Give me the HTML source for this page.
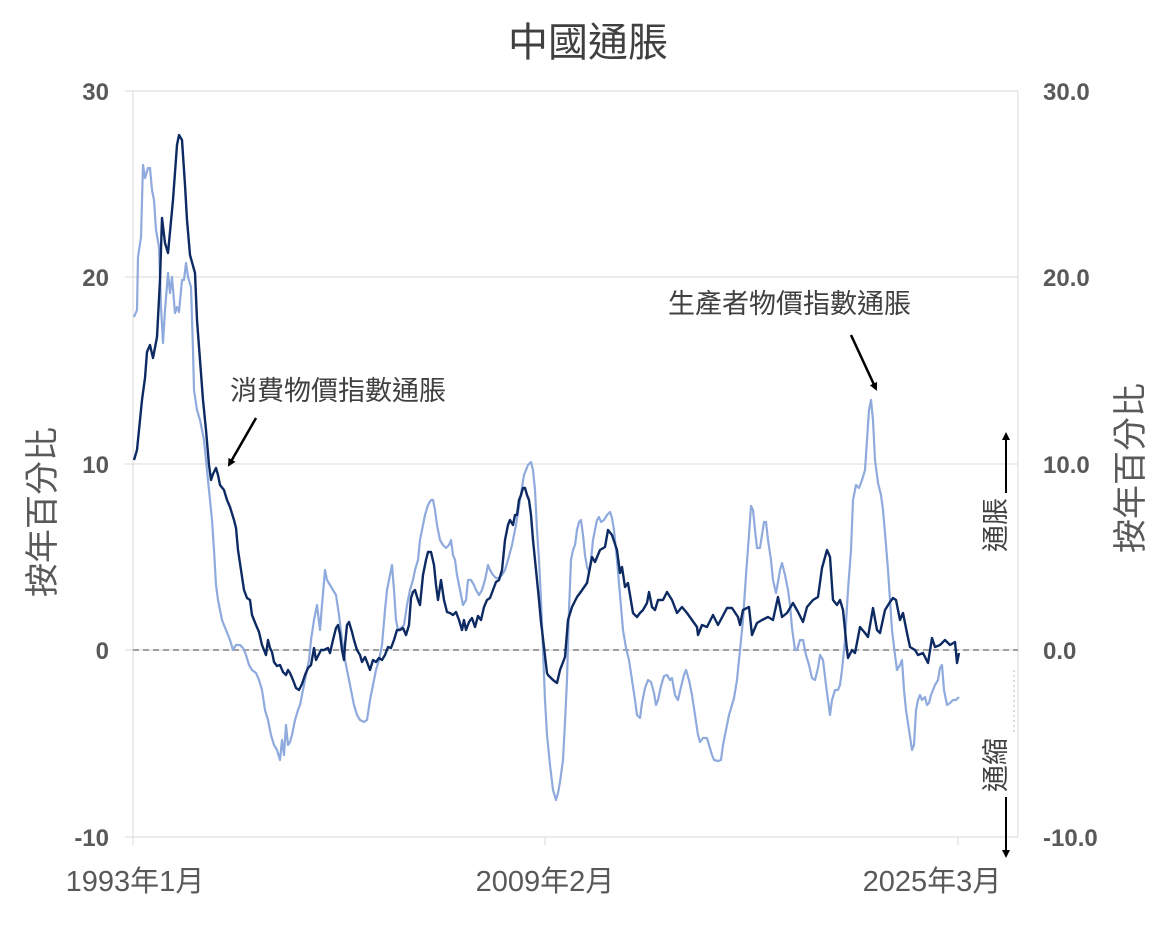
<!DOCTYPE html>
<html><head><meta charset="utf-8"><style>
html,body{margin:0;padding:0;background:#fff;}
svg{display:block;font-family:"Liberation Sans","Noto Sans CJK TC",sans-serif;}
</style></head><body>
<svg width="1167" height="932" viewBox="0 0 1167 932" xmlns="http://www.w3.org/2000/svg">
<defs><marker id="ah" markerWidth="8" markerHeight="8" refX="6" refY="4" orient="auto" markerUnits="userSpaceOnUse"><path d="M0,0 L8,4 L0,8 z" fill="#000"/></marker></defs>
<text x="588" y="56" font-size="40" fill="#404040" text-anchor="middle">中國通脹</text>
<g stroke="#d9d9d9" stroke-width="1">
<line x1="133" y1="91" x2="1018" y2="91"/><line x1="133" y1="277" x2="1018" y2="277"/>
<line x1="133" y1="464" x2="1018" y2="464"/><line x1="133" y1="837" x2="1018" y2="837"/>
<line x1="133" y1="650" x2="1018" y2="650"/>
<line x1="133" y1="91" x2="133" y2="845"/><line x1="1018" y1="91" x2="1018" y2="837"/>
<line x1="125" y1="91" x2="133" y2="91"/><line x1="125" y1="277" x2="133" y2="277"/><line x1="125" y1="464" x2="133" y2="464"/><line x1="125" y1="650" x2="133" y2="650"/><line x1="125" y1="837" x2="133" y2="837"/>
<line x1="545" y1="837" x2="545" y2="845"/><line x1="958" y1="837" x2="958" y2="845"/>
</g>
<line x1="133" y1="650" x2="1018" y2="650" stroke="#808080" stroke-width="1.5" stroke-dasharray="6,4"/>
<g font-size="24" font-weight="bold" fill="#595959" text-anchor="end">
<text x="109" y="100">30</text><text x="109" y="286">20</text><text x="109" y="473">10</text><text x="109" y="659">0</text><text x="109" y="846">-10</text>
</g>
<g font-size="24" font-weight="bold" fill="#595959" text-anchor="start">
<text x="1043" y="100">30.0</text><text x="1043" y="286">20.0</text><text x="1043" y="473">10.0</text><text x="1043" y="659">0.0</text><text x="1043" y="846">-10.0</text>
</g>
<g font-size="29" fill="#595959" text-anchor="middle">
<text x="135" y="891">1993年1月</text><text x="545" y="891">2009年2月</text><text x="932" y="891">2025年3月</text>
</g>
<text transform="translate(54,512) rotate(-90)" font-size="34" fill="#595959" text-anchor="middle">按年百分比</text>
<text transform="translate(1142,468) rotate(-90)" font-size="34" fill="#595959" text-anchor="middle">按年百分比</text>
<text transform="translate(1005,525) rotate(-90)" font-size="27" fill="#404040" text-anchor="middle">通脹</text>
<text transform="translate(1005,765) rotate(-90)" font-size="27" fill="#404040" text-anchor="middle">通縮</text>
<line x1="1006" y1="493" x2="1006" y2="434" stroke="#000" stroke-width="2" marker-end="url(#ah)"/>
<line x1="1006" y1="797" x2="1006" y2="856" stroke="#000" stroke-width="2" marker-end="url(#ah)"/>
<line x1="1014" y1="670" x2="1014" y2="735" stroke="#bbb" stroke-width="1" stroke-dasharray="2,3"/>
<polyline fill="none" stroke="#8faadc" stroke-width="2.2" stroke-linejoin="round" points="134,317 137,310 138,257 141,237 143,165 145,178 148,168 150,168 152,190 154,200 156,230 159,247 161,307 163,343 165,310 168,273 170,293 172,277 175,313 177,307 179,312 182,280 184,280 186,263 188,277 191,287 193,350 194,390 197,410 200,420 204,440 207,470 210,500 212,520 214,550 216,585 218,600 220,610 222,620 226,630 230,640 233,650 236,645 240,645 243,648 246,655 249,665 252,670 256,673 259,680 262,690 265,710 268,720 271,735 274,745 277,750 280,760 282,740 284,755 286,725 288,745 290,742 292,735 295,720 298,710 300,705 303,690 306,675 309,660 311,640 314,620 317,605 320,630 322,605 325,570 327,580 330,585 333,590 336,595 339,615 342,640 345,660 348,675 351,690 354,705 357,715 360,720 364,722 367,720 370,700 373,685 376,670 379,660 382,645 385,610 387,590 390,575 392,565 394,590 396,620 398,630 401,628 404,625 407,605 410,590 413,580 415,570 418,560 420,540 423,525 425,515 428,505 431,500 433,500 435,510 437,525 440,540 443,545 446,548 449,545 451,540 453,555 455,560 457,575 460,590 463,605 466,600 468,580 471,580 474,585 476,590 479,595 482,590 485,580 488,565 490,570 493,575 496,578 499,578 502,575 505,570 508,560 512,545 516,525 520,500 524,475 528,465 531,462 533,470 535,490 537,530 539,560 541,600 543,650 545,700 547,735 550,765 553,790 556,800 558,793 560,782 563,760 565,722 567,680 569,610 571,560 573,550 575,545 577,530 579,522 581,520 583,535 585,555 587,567 589,572 591,560 593,540 595,530 597,520 599,517 601,522 604,520 607,515 610,512 612,518 614,530 617,560 620,595 623,630 626,648 629,660 632,680 635,700 637,715 640,718 642,703 645,688 648,680 651,682 654,693 656,705 658,700 661,686 664,676 667,675 670,680 672,678 675,695 678,700 681,687 684,675 686,670 689,680 692,695 695,715 698,735 700,742 703,738 707,738 709,745 712,755 714,760 718,761 721,760 723,745 726,730 729,715 732,705 734,698 737,680 740,650 743,620 746,575 749,535 751,506 753,510 755,530 757,548 760,548 762,535 764,522 766,522 768,540 771,560 773,580 776,593 778,582 780,570 782,563 785,575 788,590 790,605 792,628 795,650 797,650 800,640 803,640 806,655 809,665 812,678 815,680 818,668 820,655 823,660 826,685 828,700 830,715 832,700 835,690 838,690 840,685 842,670 845,640 848,590 851,550 853,500 856,485 859,488 862,480 865,470 867,440 869,410 871,400 873,420 875,460 878,483 881,495 883,510 886,545 888,570 890,600 892,630 895,655 897,670 900,665 902,660 904,690 906,710 909,730 912,750 914,745 916,710 918,700 920,695 922,700 925,697 927,705 929,703 931,695 933,690 935,685 938,680 940,668 942,665 944,690 947,705 950,703 953,700 956,700 959,697"/>
<polyline fill="none" stroke="#0d2a62" stroke-width="2.4" stroke-linejoin="round" points="134,460 137,450 140,420 142,400 145,378 147,352 150,345 153,358 157,337 160,280 162,218 165,243 168,253 173,200 177,145 179,135 182,140 185,185 187,220 190,255 195,273 197,320 200,360 203,400 206,430 209,465 211,480 213,474 216,468 218,475 220,485 224,490 227,500 230,507 234,520 236,528 238,550 241,570 244,590 247,598 250,600 252,615 256,625 259,632 262,645 264,650 266,655 268,640 270,648 272,652 274,662 277,666 280,665 283,672 286,675 288,670 290,673 293,680 296,688 299,690 302,684 305,675 308,668 311,665 314,648 316,660 318,656 321,650 324,650 328,648 330,653 333,640 336,628 338,625 340,634 342,650 344,660 345,645 347,625 349,622 352,632 354,640 357,650 360,655 362,662 365,657 367,662 370,670 373,660 376,662 379,658 382,660 385,655 388,647 391,648 394,640 397,630 400,630 403,628 406,635 409,625 411,598 413,592 415,590 418,600 420,605 423,575 426,560 428,552 431,552 434,565 436,585 438,600 441,580 444,600 447,612 450,613 453,615 456,612 459,620 462,630 464,620 466,630 469,622 472,618 475,627 478,616 481,620 484,607 487,600 490,598 493,590 496,582 499,580 502,570 505,540 508,525 510,520 513,525 515,515 517,515 519,500 521,495 523,488 525,488 527,495 529,500 531,515 533,540 535,560 537,580 539,600 541,622 542,630 547,673 548,675 553,680 557,683 560,670 565,657 568,620 572,607 577,597 580,593 587,583 592,557 595,562 600,550 605,547 608,530 612,535 617,550 620,573 622,567 625,587 628,583 633,613 637,617 640,613 643,610 647,603 649,592 652,607 655,610 658,600 663,600 667,592 672,600 677,613 682,607 687,613 692,620 697,627 698,635 702,625 707,627 713,615 718,625 727,608 732,608 738,617 740,625 743,610 749,607 752,635 757,623 762,620 768,617 773,620 778,597 782,617 787,613 793,603 798,612 803,622 807,607 813,600 818,597 822,568 827,550 830,557 833,600 837,605 840,600 843,610 847,650 848,658 852,650 855,653 860,627 865,633 868,637 873,608 877,630 880,633 885,610 890,602 893,598 896,600 900,620 903,613 907,633 910,647 915,650 918,655 923,653 928,663 932,638 935,647 940,645 945,640 950,645 955,642 957,663 959,653"/>
<text x="230" y="400" font-size="27" fill="#404040">消費物價指數通脹</text>
<line x1="256" y1="418" x2="229" y2="465" stroke="#000" stroke-width="2.5" marker-end="url(#ah)"/>
<text x="668" y="313" font-size="27" fill="#404040">生產者物價指數通脹</text>
<line x1="851" y1="335" x2="876" y2="389" stroke="#000" stroke-width="2.5" marker-end="url(#ah)"/>
</svg>
</body></html>
